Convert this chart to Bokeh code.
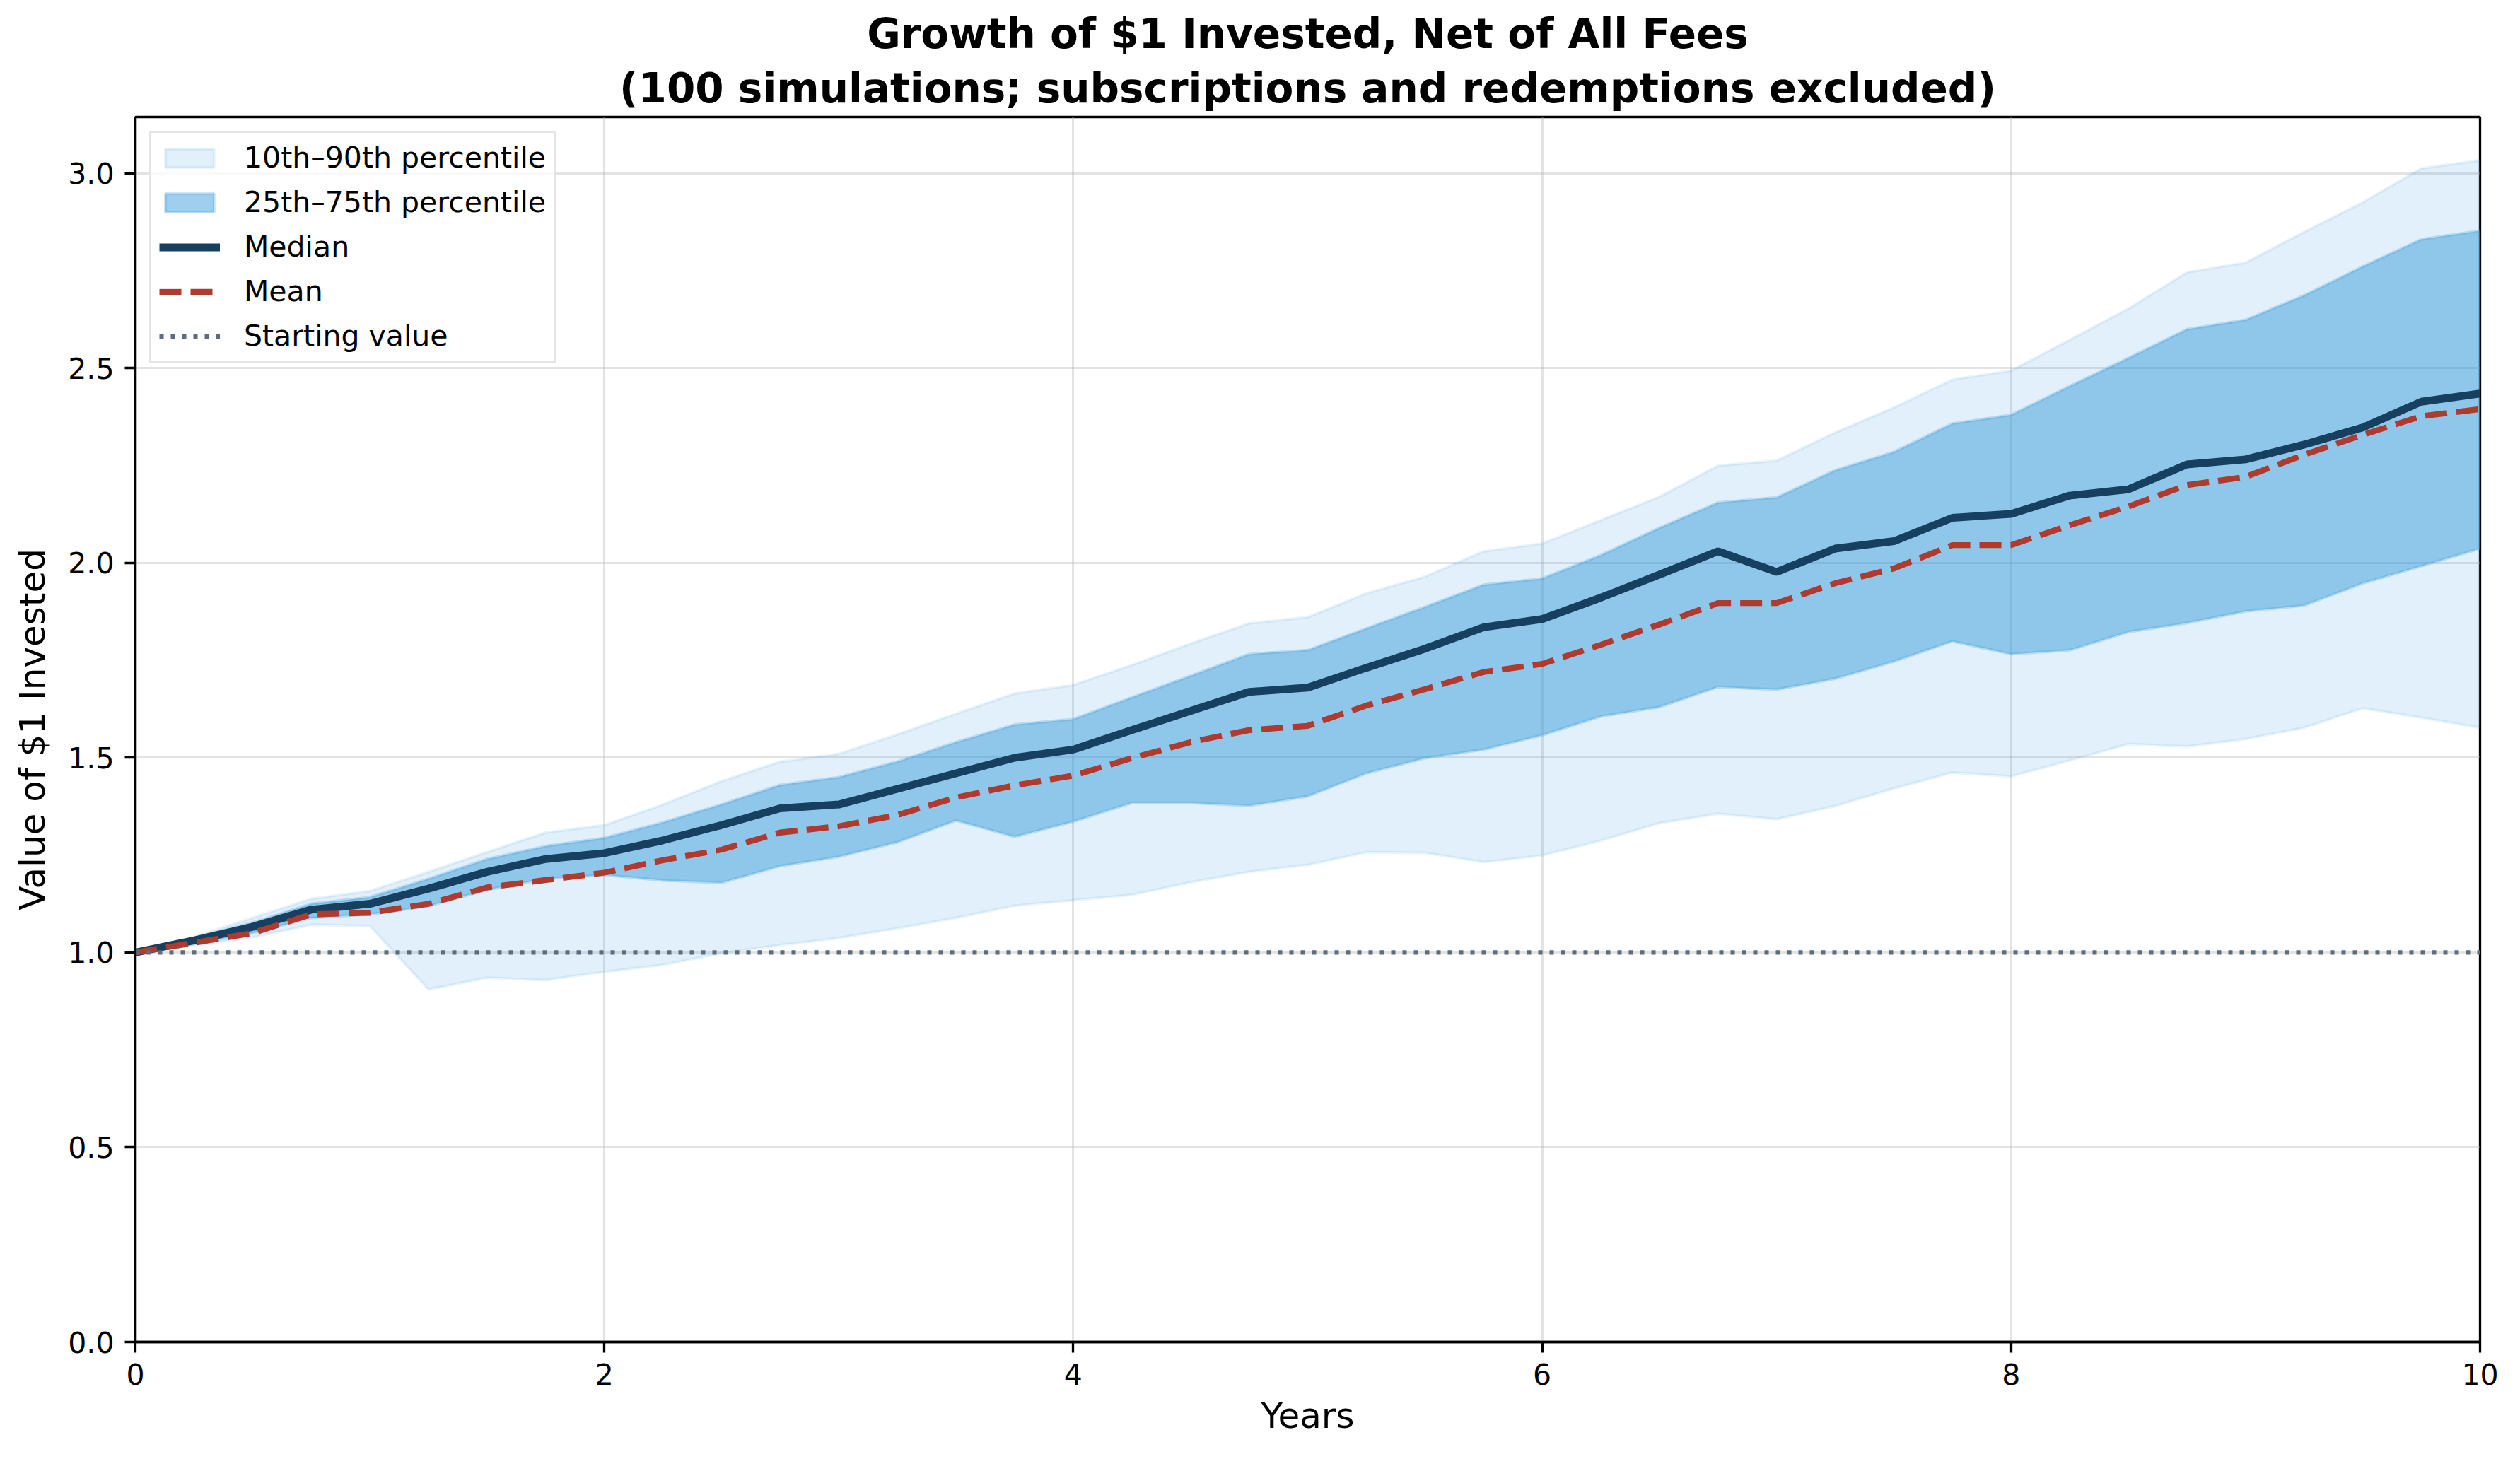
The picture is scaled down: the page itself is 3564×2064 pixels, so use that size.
from bokeh.plotting import figure
from bokeh.models import Range1d, FixedTicker, PrintfTickFormatter, Legend, LegendItem, Title
from bokeh.embed import file_html
from bokeh.resources import INLINE

years = [0.0, 0.25, 0.5, 0.75, 1.0, 1.25, 1.5, 1.75, 2.0, 2.25, 2.5, 2.75, 3.0, 3.25,
         3.5, 3.75, 4.0, 4.25, 4.5, 4.75, 5.0, 5.25, 5.5, 5.75, 6.0, 6.25, 6.5, 6.75,
         7.0, 7.25, 7.5, 7.75, 8.0, 8.25, 8.5, 8.75, 9.0, 9.25, 9.5, 9.75, 10.0]

p10 = [1.00, 1.019, 1.039, 1.071, 1.068, 0.905, 0.935, 0.929, 0.95, 0.968,
       0.998, 1.019, 1.037, 1.062, 1.089, 1.12, 1.134, 1.148, 1.18, 1.207,
       1.225, 1.257, 1.256, 1.232, 1.249, 1.287, 1.332, 1.356, 1.342, 1.376,
       1.421, 1.462, 1.452, 1.493, 1.535, 1.529, 1.548, 1.577, 1.627, 1.603, 1.577]
p25 = [1.00, 1.022, 1.05, 1.089, 1.098, 1.119, 1.161, 1.189, 1.199, 1.185,
       1.179, 1.222, 1.246, 1.283, 1.339, 1.297, 1.336, 1.384, 1.384, 1.377,
       1.401, 1.46, 1.499, 1.521, 1.558, 1.606, 1.63, 1.682, 1.675, 1.703,
       1.747, 1.799, 1.766, 1.776, 1.823, 1.846, 1.876, 1.891, 1.948, 1.992, 2.037]
median = [1.00, 1.031, 1.066, 1.11, 1.125, 1.164, 1.207, 1.24, 1.255, 1.288,
          1.327, 1.37, 1.38, 1.42, 1.46, 1.50, 1.521, 1.571, 1.62, 1.669,
          1.68, 1.731, 1.78, 1.835, 1.856, 1.911, 1.970, 2.03, 1.977, 2.037,
          2.056, 2.116, 2.126, 2.173, 2.189, 2.253, 2.266, 2.304, 2.348, 2.414, 2.435]
mean = [1.00, 1.025, 1.05, 1.098, 1.102, 1.125, 1.167, 1.186, 1.205, 1.237,
        1.264, 1.308, 1.324, 1.353, 1.398, 1.429, 1.454, 1.499, 1.54, 1.571,
        1.582, 1.634, 1.676, 1.72, 1.741, 1.79, 1.842, 1.897, 1.897, 1.948,
        1.986, 2.046, 2.046, 2.097, 2.145, 2.20, 2.221, 2.278, 2.329, 2.377, 2.395]
p75 = [1.00, 1.037, 1.077, 1.125, 1.142, 1.189, 1.24, 1.273, 1.294, 1.334,
       1.38, 1.43, 1.45, 1.49, 1.54, 1.585, 1.599, 1.655, 1.71, 1.766,
       1.776, 1.832, 1.887, 1.944, 1.96, 2.02, 2.09, 2.155, 2.168, 2.238,
       2.285, 2.358, 2.38, 2.454, 2.526, 2.60, 2.624, 2.687, 2.761, 2.831, 2.853]
p90 = [1.00, 1.04, 1.089, 1.138, 1.158, 1.207, 1.258, 1.308, 1.327, 1.38,
       1.44, 1.49, 1.51, 1.56, 1.613, 1.665, 1.687, 1.738, 1.793, 1.845,
       1.861, 1.922, 1.965, 2.03, 2.05, 2.11, 2.17, 2.25, 2.263, 2.335,
       2.399, 2.471, 2.494, 2.573, 2.653, 2.746, 2.771, 2.85, 2.926, 3.013, 3.034]
start_value = 1.0

x_ticks = [0, 2, 4, 6, 8, 10]
y_ticks = [0.0, 0.5, 1.0, 1.5, 2.0, 2.5, 3.0]

title_line1 = "Growth of $1 Invested, Net of All Fees"
title_line2 = "(100 simulations; subscriptions and redemptions excluded)"

FONT = "DejaVu Sans"

p = figure(width=3564, height=2064, output_backend="svg", toolbar_location=None,
           x_range=Range1d(0, 10), y_range=Range1d(0, 3.145),
           min_border_left=191, min_border_right=57, min_border_top=165,
           min_border_bottom=166)

p.title = None
sub = Title(text=title_line2, align="center", text_font=FONT, text_font_size="58px",
            text_font_style="bold", text_color="black", standoff=14)
main = Title(text=title_line1, align="center", text_font=FONT, text_font_size="58px",
             text_font_style="bold", text_color="black", standoff=0)
p.add_layout(sub, "above")
p.add_layout(main, "above")

band_color = "#3498db"
xs = years + years[::-1]
outer = p.patch(xs, p90 + p10[::-1], fill_color=band_color, fill_alpha=0.15,
                line_color=band_color, line_alpha=0.10, line_width=4)
inner = p.patch(xs, p75 + p25[::-1], fill_color=band_color, fill_alpha=0.47,
                line_color=band_color, line_alpha=0.25, line_width=4)
med = p.line(years, median, line_color="#173f5f", line_width=11)
mn = p.line(years, mean, line_color="#b03a2e", line_width=8.3, line_dash="31 13")
start = p.line(years, [start_value] * len(years), line_color="#5d6d7e",
               line_width=6.25, line_dash="6 10")

legend = Legend(items=[
    LegendItem(label="10th\u201390th percentile", renderers=[outer]),
    LegendItem(label="25th\u201375th percentile", renderers=[inner]),
    LegendItem(label="Median", renderers=[med]),
    LegendItem(label="Mean", renderers=[mn]),
    LegendItem(label="Starting value", renderers=[start]),
], location="top_left")
legend.margin = 20
legend.padding = 11
legend.spacing = 15
legend.glyph_width = 86
legend.glyph_height = 33
legend.label_height = 42
legend.label_standoff = 34
legend.label_text_font = FONT
legend.label_text_font_size = "41px"
legend.label_text_color = "black"
legend.border_line_color = "#cccccc"
legend.border_line_width = 3
legend.background_fill_color = "white"
legend.background_fill_alpha = 0.8
p.add_layout(legend, "center")

p.xaxis.ticker = FixedTicker(ticks=x_ticks)
p.yaxis.ticker = FixedTicker(ticks=y_ticks)
p.xaxis.formatter = PrintfTickFormatter(format="%d")
p.yaxis.formatter = PrintfTickFormatter(format="%.1f")
p.xaxis.axis_label = "Years"
p.yaxis.axis_label = "Value of $1 Invested"

for ax in (p.xaxis, p.yaxis):
    ax.axis_label_text_font = FONT
    ax.axis_label_text_font_size = "50px"
    ax.axis_label_text_font_style = "normal"
    ax.axis_label_text_color = "black"
    ax.major_label_text_font = FONT
    ax.major_label_text_font_size = "41px"
    ax.major_label_text_color = "black"
    ax.major_tick_out = 15
    ax.major_tick_in = 0
    ax.minor_tick_out = 0
    ax.minor_tick_in = 0
    ax.major_tick_line_width = 3.3
    ax.axis_line_width = 3.3
    ax.axis_line_color = "black"
    ax.major_tick_line_color = "black"
    ax.major_label_standoff = 15
p.xaxis.axis_label_standoff = 12
p.yaxis.axis_label_standoff = 18

p.grid.grid_line_color = "#b0b0b0"
p.grid.grid_line_alpha = 0.35
p.grid.grid_line_width = 3
p.xgrid.ticker = FixedTicker(ticks=x_ticks)
p.ygrid.ticker = FixedTicker(ticks=y_ticks)

p.outline_line_color = "black"
p.outline_line_width = 3.3
p.outline_line_alpha = 1.0
p.background_fill_color = "white"
p.border_fill_color = "white"

open("out.html", "w").write(file_html(p, INLINE))
